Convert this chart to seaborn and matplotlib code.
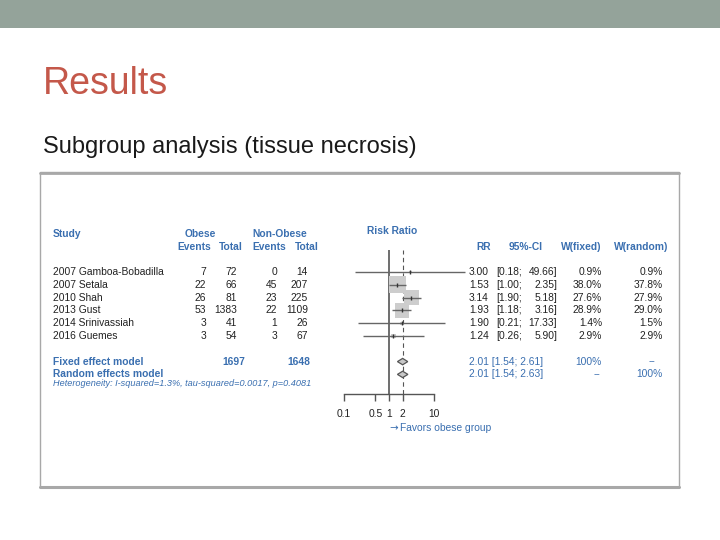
import matplotlib
matplotlib.use("Agg")
import matplotlib.pyplot as plt
from matplotlib.patches import Polygon, Rectangle
import numpy as np
import pandas as pd
import seaborn as sns

# ---- data ----
studies = ["2007 Gamboa-Bobadilla", "2007 Setala", "2010 Shah",
           "2013 Gust", "2014 Srinivassiah", "2016 Guemes"]
ev_obese = [7, 22, 26, 53, 3, 3]
n_obese = [72, 66, 81, 1383, 41, 54]
ev_non = [0, 45, 23, 22, 1, 3]
n_non = [14, 207, 225, 1109, 26, 67]
rr = [3.00, 1.53, 3.14, 1.93, 1.90, 1.24]
ci_lo = [0.18, 1.00, 1.90, 1.18, 0.21, 0.26]
ci_hi = [49.66, 2.35, 5.18, 3.16, 17.33, 5.90]
w_fixed = [0.9, 38.0, 27.6, 28.9, 1.4, 2.9]
w_random = [0.9, 37.8, 27.9, 29.0, 1.5, 2.9]

pooled_n = [1697, 1648]
summary_labels = ["Fixed effect model", "Random effects model"]
summary_rr = [2.01, 2.01]
summary_lo = [1.54, 1.54]
summary_hi = [2.61, 2.63]
summary_wf = ["100%", "--"]
summary_wr = ["--", "100%"]
heterogeneity = "Heterogeneity: I-squared=1.3%, tau-squared=0.0017, p=0.4081"
x_ticks = [0.1, 0.5, 1, 2, 10]
x_ticklabels = ["0.1", "0.5", "1", "2", "10"]

BLUE = "#3a6fb0"
TXT = "#222222"
LINE = "#555555"
FONT = ["Liberation Sans", "DejaVu Sans"]
FS = 7.4

sns.set_theme(style="white")
plt.rcParams["font.family"] = FONT

fig = plt.figure(figsize=(7.2, 5.4), dpi=100)

# background layer in pixel coordinates (slide)
bg = fig.add_axes([0, 0, 1, 1])
bg.set_xlim(0, 720)
bg.set_ylim(540, 0)
bg.axis("off")
bg.add_patch(Rectangle((0, 0), 720, 28, color="#94a39a", lw=0))
bg.text(43, 94, "Results", fontsize=27, color="#c4584a", va="baseline")
bg.text(43, 153, "Subgroup analysis (tissue necrosis)", fontsize=17,
        color="#1a1a1a", va="baseline")
bg.add_patch(Rectangle((40, 172), 639, 315, fill=False,
                       edgecolor="#a8a8a8", lw=1))
bg.plot([40, 679], [172.5, 172.5], color="#a8a8a8", lw=2)
bg.plot([40, 679], [486.5, 486.5], color="#a8a8a8", lw=2.2)

ROW0, STEP = 272, 12.8


def ypix(r):
    return ROW0 + STEP * r


def put(x, r, s, ha="left", color=TXT, **kw):
    bg.text(x, ypix(r), s, ha=ha, va="center", fontsize=FS, color=color, **kw)


# headers
bold = dict(fontweight="bold", color=BLUE)
bg.text(53, 234, "Study", fontsize=FS, va="center", **bold)
bg.text(200, 234, "Obese", fontsize=FS, va="center", ha="center", **bold)
bg.text(280, 234, "Non-Obese", fontsize=FS, va="center", ha="center", **bold)
for x, s in [(194, "Events"), (231, "Total"), (269, "Events"), (307, "Total")]:
    bg.text(x, 247, s, fontsize=FS, va="center", ha="center", **bold)
bg.text(392, 231, "Risk Ratio", fontsize=FS, va="center", ha="center", **bold)
bg.text(484, 247, "RR", fontsize=FS, va="center", ha="center", **bold)
bg.text(526, 247, "95%-CI", fontsize=FS, va="center", ha="center", **bold)
bg.text(601, 247, "W(fixed)", fontsize=FS, va="center", ha="right", **bold)
bg.text(668, 247, "W(random)", fontsize=FS, va="center", ha="right", **bold)

# study rows
for i, name in enumerate(studies):
    put(53, i, name)
    put(206, i, str(ev_obese[i]), ha="right")
    put(237, i, str(n_obese[i]), ha="right")
    put(277, i, str(ev_non[i]), ha="right")
    put(308, i, str(n_non[i]), ha="right")
    put(469, i, f"{rr[i]:.2f}")
    put(496, i, f"[{ci_lo[i]:.2f};")
    put(557, i, f"{ci_hi[i]:.2f}]", ha="right")
    put(602, i, f"{w_fixed[i]:.1f}%", ha="right")
    put(663, i, f"{w_random[i]:.1f}%", ha="right")

# summary rows
for j, lab in enumerate(summary_labels):
    r = 7 + j
    put(53, r, lab, color=BLUE, fontweight="bold")
    put(469, r, f"{summary_rr[j]:.2f} [{summary_lo[j]:.2f}; {summary_hi[j]:.2f}]",
        color=BLUE)
    put(602 if summary_wf[j] != "--" else 597, r, summary_wf[j],
        ha="right" if summary_wf[j] != "--" else "center", color=BLUE)
    put(663 if summary_wr[j] != "--" else 652, r, summary_wr[j],
        ha="right" if summary_wr[j] != "--" else "center", color=BLUE)
put(245, 7, str(pooled_n[0]), ha="right", color=BLUE, fontweight="bold")
put(310, 7, str(pooled_n[1]), ha="right", color=BLUE, fontweight="bold")
bg.text(53, 384, heterogeneity, fontsize=6.6, color=BLUE, style="italic",
        va="center")

# ---- forest panel ----
px_left, px_right, px_top, px_bot = 330, 470, 250, 394
ax = fig.add_axes([px_left / 720, 1 - px_bot / 540,
                   (px_right - px_left) / 720, (px_bot - px_top) / 540])
ax.set_xscale("log")
ax.set_xlim(10 ** ((px_left - 389) / 45), 10 ** ((px_right - 389) / 45))
ax.set_ylim((px_bot - ROW0) / STEP, (px_top - ROW0) / STEP)
ax.patch.set_alpha(0)

rows = np.arange(len(studies))
df = pd.DataFrame({"rr": rr, "row": rows, "w": w_fixed})
k = 146.0 / 38.0
sns.scatterplot(data=df, x="rr", y="row", size="w",
                sizes=(k * min(w_fixed), k * max(w_fixed)),
                size_norm=(min(w_fixed), max(w_fixed)),
                marker="s", color="#cdcdcd", linewidth=0, legend=False,
                ax=ax, zorder=2)
ax.hlines(rows, ci_lo, ci_hi, color="#666666", lw=1.0, zorder=3)
ax.plot(rr, rows, "|", color="#333333", ms=3, mew=1, zorder=4)

ax.axvline(1, color=LINE, lw=1.2, zorder=1)
ax.axvline(summary_rr[0], color=LINE, lw=0.8, ls=(0, (4, 3)), zorder=1)

for j in range(2):
    r = 7 + j
    est, lo, hi = summary_rr[j], summary_lo[j], summary_hi[j]
    ax.add_patch(Polygon([(lo, r), (est, r - 0.25), (hi, r), (est, r + 0.25)],
                         closed=True, facecolor="#c8c8c8", edgecolor=LINE,
                         lw=0.9, zorder=5))

for s in ["top", "right", "left"]:
    ax.spines[s].set_visible(False)
ax.spines["bottom"].set_bounds(0.1, 10)
ax.spines["bottom"].set_color(LINE)
ax.spines["bottom"].set_linewidth(1)
ax.set_xticks(x_ticks)
ax.set_xticklabels(x_ticklabels)
ax.xaxis.set_minor_locator(matplotlib.ticker.NullLocator())
ax.tick_params(axis="x", bottom=True, direction="out", length=5, width=1,
               color=LINE, labelsize=FS, labelcolor=TXT, pad=6)
ax.set_yticks([])
ax.set_xlabel("")
ax.set_ylabel("")
ax.grid(False)

bg.text(389, 428, "\u2192", fontsize=FS, color=BLUE, va="center",
        family="DejaVu Sans")
bg.text(400, 428, "Favors obese group", fontsize=FS, color=BLUE,
        va="center")

fig.savefig("out.png", dpi=100)
